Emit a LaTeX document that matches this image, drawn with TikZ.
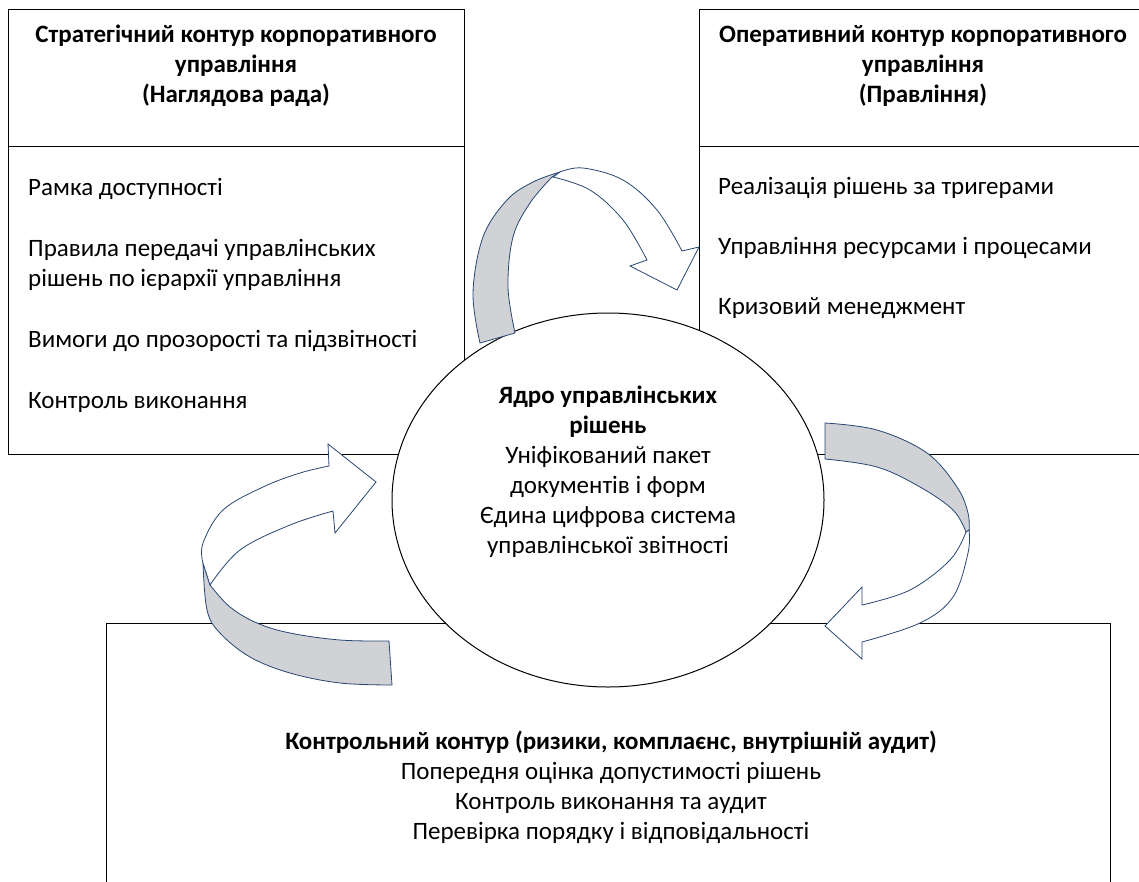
\documentclass[tikz,border=0pt]{standalone}
\usepackage{fontspec}
\setmainfont{Carlito}
\usetikzlibrary{shapes.geometric}
\definecolor{arrline}{RGB}{40,70,115}
\definecolor{arrgray}{RGB}{208,210,213}
\begin{document}
\begin{tikzpicture}[x=1pt,y=-1pt,
  frame/.style={draw=black, line width=1pt, inner sep=0pt, anchor=north west},
  txt/.style={inner sep=0pt, font=\fontsize{25}{30}\selectfont},
  txtb/.style={inner sep=0pt, font=\fontsize{25}{30}\selectfont\bfseries},
  arrgrey/.style={draw=arrline, fill=arrgray, line width=0.8pt, line join=round},
  arrwhite/.style={draw=arrline, fill=white, line width=0.8pt, line join=miter},
  ]
\useasboundingbox (0,0) rectangle (1139,881);
\clip (0,0) rectangle (1139,881);
% boxes
\node[frame, minimum width=456pt, minimum height=445pt] (strat) at (8,9) {};
\draw[line width=1pt] ([yshift=-137pt]strat.north west) -- ([yshift=-137pt]strat.north east);
\node[frame, minimum width=470pt, minimum height=445pt] (oper) at (699,9) {};
\draw[line width=1pt] ([yshift=-137pt]oper.north west) -- ([yshift=-137pt]oper.north east);
\node[frame, minimum width=1004pt, minimum height=300pt] (ctrl) at (106,623) {};
% texts in boxes
\node[txtb, align=center, anchor=north] (stratT) at (236,21) {\strut Стратегічний контур корпоративного\\управління\\(Наглядова рада)};
\node[txt, align=left, anchor=north west] (stratB) at (28,174) {\strut Рамка доступності\\[31pt]Правила передачі управлінських\\рішень по ієрархії управління\\[31pt]Вимоги до прозорості та підзвітності\\[31pt]Контроль виконання};
\node[txtb, align=center, anchor=north] (operT) at (923,21) {\strut Оперативний контур корпоративного\\управління\\(Правління)};
\node[txt, align=left, anchor=north west] (operB) at (718,173) {\strut Реалізація рішень за тригерами\\[30pt]Управління ресурсами і процесами\\[30pt]Кризовий менеджмент};
\node[txt, align=center, anchor=north] (ctrlT) at (611,728) {\strut\textbf{Контрольний контур (ризики, комплаєнс, внутрішній аудит)}\\Попередня оцінка допустимості рішень\\Контроль виконання та аудит\\Перевірка порядку і відповідальності};
% core ellipse
\node[ellipse, draw=black, line width=1pt, fill=white, minimum width=432pt, minimum height=374pt, inner sep=0pt] (core) at (608,500) {};
\node[txt, align=center, anchor=north] (coreT) at (608,382) {\strut\textbf{Ядро управлінських}\\\textbf{рішень}\\Уніфікований пакет\\документів і форм\\Єдина цифрова система\\управлінської звітності};
% arrow 1 (top)
\path[arrgrey] plot[smooth, tension=0.6] coordinates {(480,343) (473,293) (483,237) (507,200) (533,182) (560,172)} -- plot[smooth, tension=0.6] coordinates {(552,177) (530,203) (513,237) (508,287) (515,333)} -- cycle;
\path[arrwhite] plot[smooth, tension=0.6] coordinates {(560,172) (583,168) (623,180) (657,210) (682,251)} -- (699,247) -- (677,290) -- (630,266) -- plot[smooth, tension=0.6] coordinates {(647,260) (623,220) (590,190) (553,177)} -- cycle;
% arrow 2 (right)
\path[arrgrey] plot[smooth, tension=0.6] coordinates {(825,423) (877,430) (927,453) (957,487) (968,513) (969,532)} -- plot[smooth, tension=0.6] coordinates {(966,532) (953,510) (920,487) (877,467) (825,459)} -- cycle;
\path[arrwhite] plot[smooth, tension=0.6] coordinates {(969,530) (968,553) (953,597) (920,623) (862,642)} -- (862,659) -- (825,626) -- (862,587) -- plot[smooth, tension=0.6] coordinates {(862,605) (910,590) (950,560) (966,532)} -- cycle;
% arrow 3 (left)
\path[arrgrey] plot[smooth, tension=0.6] coordinates {(203,563) (207,610) (220,633) (250,657) (290,673) (340,683) (392,685)} -- plot[smooth, tension=0.6] coordinates {(389,641) (340,640) (290,633) (257,623) (230,607) (210,585)} -- cycle;
\path[arrwhite] plot[smooth, tension=0.6] coordinates {(203,563) (203,543) (223,510) (263,487) (300,473) (329,466)} -- (328,444) -- (376,482) -- (335,533) -- plot[smooth, tension=0.6] coordinates {(333,511) (290,525) (240,550) (210,585)} -- cycle;
\end{tikzpicture}
\end{document}
